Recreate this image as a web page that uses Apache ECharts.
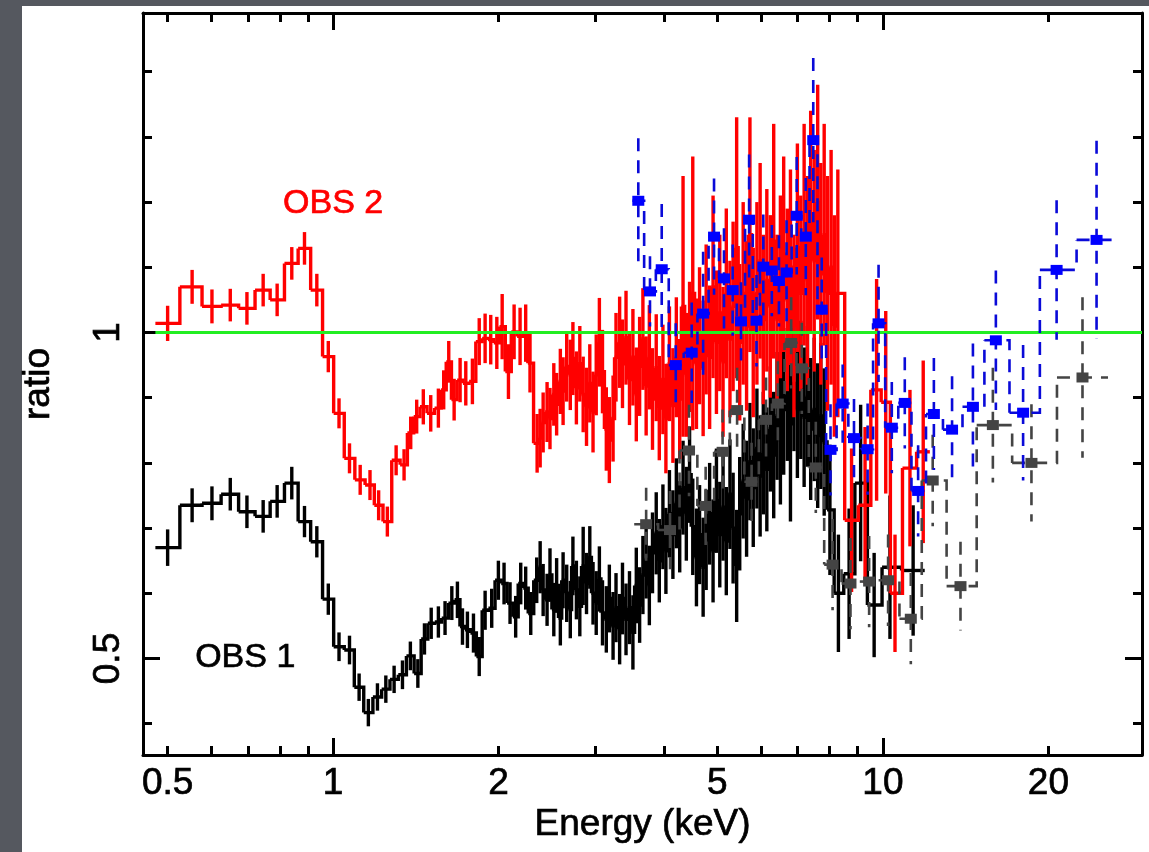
<!DOCTYPE html>
<html><head><meta charset="utf-8">
<script src="https://cdn.jsdelivr.net/npm/echarts@6/dist/echarts.min.js"></script>
<style>
html,body{margin:0;padding:0;width:1149px;height:852px;overflow:hidden;background:#55585f;}
#panel{position:absolute;left:22px;top:6px;width:1127px;height:846px;background:#fff;}
#chart{position:absolute;left:0;top:0;width:1149px;height:852px;}
</style></head><body>
<div id="panel"></div><div id="chart"></div>
<script>
// ---- axis ranges and ticks ----
const xLabelValues = [0.5, 1, 2, 5, 10, 20];
const xMajorTicks = [1, 10];
const xMinorTicks = [0.5, 0.6, 0.7, 0.8, 0.9, 2, 3, 4, 5, 6, 7, 8, 9, 20];
const yLabelValues = [0.5, 1];
const yMajorTicks = [0.5, 1];
const yMinorTicks = [0.4, 0.6, 0.7, 0.8, 0.9, 1.1, 1.2, 1.3, 1.4];
const X_MIN = 0.451, X_MAX = 29.6, Y_MIN = 0.352, Y_MAX = 1.49;
const modelRatio = 1;

// ---- OBS 2 (red) ----
const redEnergy = [0.50,0.554,0.602,0.650,0.697,0.746,0.791,0.841,0.887,0.934,
0.980,1.025,1.071,1.12,1.167,1.21,1.255,1.302,1.346,1.384,
1.419,1.459,1.505,1.554,1.589,1.623,1.66,1.702,1.743,1.792,
1.844,1.89,1.935,1.985,2.03,2.084,2.134,2.188,2.24,2.281,
2.35,2.38,2.41,2.45,2.48,2.52,2.55,2.59,2.62,2.66,
2.70,2.73,2.77,2.81,2.85,2.89,2.93,2.97,3.01,3.05,
3.09,3.14,3.18,3.23,3.27,3.32,3.36,3.41,3.46,3.51,
3.56,3.61,3.66,3.71,3.76,3.81,3.87,3.92,3.98,4.03,
4.09,4.15,4.21,4.27,4.33,4.39,4.45,4.51,4.58,4.64,
4.71,4.77,4.84,4.91,4.98,5.05,5.12,5.19,5.27,5.34,
5.42,5.49,5.57,5.65,5.73,5.81,5.90,5.98,6.06,6.15,
6.24,6.33,6.42,6.51,6.60,6.70,6.79,6.89,6.99,7.09,
7.19,7.29,7.39,7.50,7.61,7.71,7.82,7.93,8.05,8.16,
8.28,8.77,9.28,9.74,10.12,10.52,11.2,11.84];
const redRatio = [1.014,1.070,1.040,1.042,1.037,1.065,1.050,1.106,1.129,1.065,
0.963,0.876,0.807,0.774,0.766,0.735,0.710,0.804,0.797,0.846,
0.871,0.886,0.876,0.884,0.912,0.955,0.897,0.927,0.922,0.925,
0.986,0.991,0.989,0.984,1.009,0.940,1.001,0.994,0.999,0.953,
0.830,0.838,0.862,0.878,0.868,0.905,0.890,0.925,0.910,0.948,
0.935,0.960,0.915,0.952,0.905,0.886,0.922,0.878,0.935,0.985,
0.940,0.852,0.835,0.868,0.962,0.985,0.952,0.992,0.928,0.962,
0.905,0.948,0.990,0.918,0.962,0.898,0.946,0.884,0.928,0.868,
0.952,0.888,0.962,0.898,1.040,0.935,0.978,1.060,0.952,0.995,
0.945,1.020,0.962,1.070,0.985,1.030,0.955,1.060,0.990,1.040,
1.130,0.985,1.060,1.010,1.150,1.000,1.060,1.110,1.020,1.080,
1.040,1.140,1.020,1.070,1.120,1.050,1.100,1.010,1.130,1.060,
1.150,1.080,1.170,1.110,1.200,1.090,1.150,1.060,1.100,1.010,
1.060,0.712,0.735,0.912,0.893,0.600,0.792,0.817];
const redError = [0.027,0.026,0.026,0.025,0.025,0.025,0.025,0.025,0.025,0.025,
0.024,0.023,0.023,0.023,0.023,0.023,0.023,0.023,0.024,0.025,
0.026,0.027,0.028,0.030,0.030,0.032,0.032,0.034,0.034,0.035,
0.036,0.038,0.038,0.040,0.050,0.042,0.042,0.044,0.044,0.045,
0.045,0.045,0.046,0.046,0.047,0.048,0.048,0.050,0.052,0.054,
0.054,0.056,0.056,0.058,0.058,0.060,0.060,0.062,0.062,0.068,
0.064,0.064,0.066,0.066,0.068,0.070,0.068,0.072,0.070,0.074,
0.072,0.076,0.078,0.076,0.080,0.078,0.082,0.080,0.084,0.084,
0.088,0.088,0.092,0.092,0.200,0.095,0.100,0.210,0.100,0.105,
0.104,0.115,0.110,0.140,0.110,0.120,0.115,0.130,0.120,0.130,
0.200,0.120,0.140,0.130,0.180,0.130,0.140,0.150,0.130,0.140,
0.140,0.180,0.130,0.140,0.150,0.140,0.150,0.140,0.160,0.150,
0.170,0.160,0.170,0.170,0.180,0.170,0.170,0.180,0.180,0.170,
0.190,0.110,0.120,0.170,0.140,0.090,0.120,0.140];

// ---- OBS 1 (black) ----
const blackEnergy = [0.50,0.554,0.602,0.650,0.697,0.746,0.791,0.841,0.887,0.934,
0.98,1.025,1.071,1.115,1.159,1.204,1.247,1.291,1.337,1.382,
1.426,1.466,1.508,1.554,1.598,1.644,1.683,1.719,1.755,1.80,
1.844,1.89,1.943,1.998,2.046,2.098,2.148,2.194,2.24,2.288,
2.346,2.38,2.41,2.45,2.48,2.52,2.55,2.59,2.62,2.66,
2.70,2.73,2.77,2.81,2.85,2.89,2.93,2.97,3.01,3.05,
3.09,3.14,3.18,3.23,3.27,3.32,3.36,3.41,3.46,3.51,
3.56,3.61,3.66,3.71,3.76,3.81,3.87,3.92,3.98,4.03,
4.09,4.15,4.21,4.27,4.33,4.39,4.45,4.51,4.58,4.64,
4.71,4.77,4.84,4.91,4.98,5.05,5.12,5.19,5.27,5.34,
5.42,5.49,5.57,5.65,5.73,5.81,5.90,5.98,6.06,6.15,
6.24,6.33,6.42,6.51,6.60,6.70,6.79,6.89,6.99,7.09,
7.19,7.29,7.39,7.50,7.61,7.71,7.82,8.01,8.30,8.68,
9.11,9.64,10.3,11.35];
const blackRatio = [0.670,0.735,0.738,0.752,0.725,0.718,0.741,0.769,0.710,0.679,
0.591,0.518,0.513,0.456,0.417,0.441,0.453,0.468,0.475,0.504,
0.477,0.530,0.554,0.556,0.562,0.585,0.590,0.549,0.544,0.539,
0.503,0.574,0.577,0.620,0.615,0.585,0.564,0.615,0.608,0.569,
0.620,0.640,0.605,0.590,0.628,0.575,0.612,0.562,0.620,0.600,
0.575,0.642,0.605,0.580,0.642,0.615,0.655,0.600,0.585,0.622,
0.570,0.560,0.592,0.550,0.578,0.545,0.592,0.560,0.578,0.540,
0.612,0.582,0.628,0.652,0.612,0.662,0.692,0.650,0.702,0.665,
0.722,0.690,0.738,0.702,0.762,0.722,0.782,0.702,0.655,0.690,
0.640,0.682,0.722,0.665,0.742,0.690,0.732,0.680,0.752,0.700,
0.642,0.722,0.772,0.745,0.802,0.762,0.822,0.780,0.815,0.790,
0.852,0.812,0.872,0.835,0.882,0.905,0.860,0.922,0.882,0.912,
0.870,0.902,0.852,0.882,0.842,0.872,0.832,0.728,0.600,0.630,
0.769,0.582,0.640,0.635];
const blackError = [0.028,0.026,0.026,0.025,0.025,0.025,0.025,0.025,0.024,0.024,
0.024,0.022,0.022,0.021,0.021,0.021,0.021,0.021,0.022,0.022,
0.022,0.024,0.024,0.024,0.026,0.026,0.028,0.028,0.028,0.030,
0.030,0.030,0.030,0.030,0.032,0.032,0.032,0.032,0.033,0.033,
0.035,0.040,0.040,0.040,0.041,0.041,0.042,0.042,0.043,0.044,
0.044,0.045,0.045,0.046,0.060,0.047,0.048,0.048,0.049,0.050,
0.050,0.051,0.052,0.052,0.053,0.054,0.055,0.055,0.056,0.057,
0.058,0.058,0.060,0.060,0.061,0.062,0.063,0.064,0.065,0.066,
0.067,0.068,0.069,0.070,0.072,0.072,0.074,0.074,0.075,0.076,
0.076,0.077,0.078,0.079,0.080,0.081,0.082,0.083,0.084,0.085,
0.086,0.087,0.088,0.089,0.090,0.091,0.092,0.093,0.094,0.095,
0.096,0.097,0.098,0.099,0.100,0.102,0.150,0.104,0.105,0.106,
0.107,0.108,0.109,0.110,0.111,0.112,0.113,0.100,0.090,0.100,
0.120,0.080,0.110,0.100];

// ---- OBS 2 hard band (blue squares) ----
const blueEnergy = [3.59,3.77,3.96,4.20,4.49,4.71,4.93,5.14,5.33,5.52,
5.71,5.89,6.06,6.28,6.47,6.68,6.97,7.24,7.47,7.74,
8.03,8.45,8.86,9.38,9.82,10.38,10.96,11.59,12.38,13.36,
14.58,16.05,17.99,20.70,24.47];
const blueRatio = [1.202,1.063,1.097,0.950,0.969,1.029,1.147,1.083,1.065,1.017,
1.173,1.018,1.101,1.095,1.079,1.092,1.179,1.147,1.295,1.035,
0.820,0.891,0.838,0.821,1.014,0.854,0.892,0.757,0.875,0.851,
0.886,0.988,0.877,1.096,1.142];
const blueError = [0.096,0.054,0.100,0.064,0.077,0.095,0.089,0.077,0.070,0.060,
0.100,0.070,0.080,0.070,0.070,0.080,0.090,0.090,0.126,0.080,
0.070,0.060,0.060,0.070,0.090,0.070,0.070,0.070,0.086,0.082,
0.097,0.107,0.104,0.107,0.152];

// ---- OBS 1 hard band (grey squares) ----
const grayEnergy = [3.71,4.10,4.44,4.76,5.11,5.43,5.77,6.13,6.44,6.81,
7.12,7.55,8.10,8.73,9.44,10.22,11.24,12.32,13.84,15.85,
18.63,23.07];
const grayRatio = [0.706,0.697,0.819,0.734,0.817,0.881,0.771,0.866,0.891,0.984,
0.945,0.793,0.644,0.615,0.618,0.620,0.561,0.773,0.611,0.858,
0.800,0.931];
const grayError = [0.056,0.060,0.070,0.060,0.065,0.065,0.060,0.065,0.065,0.070,
0.070,0.070,0.070,0.070,0.070,0.070,0.070,0.070,0.068,0.088,
0.090,0.123];

// ---- annotations ----
const labelNames = ['OBS 2', 'OBS 1'];
const labelEnergy = [1.0, 0.692];
const labelRatio = [1.198, 0.502];
const labelColors = ['#ff0000', '#000000'];

const FONT = '"Liberation Sans", Arial, Helvetica, sans-serif';

function stepData(E, R, Er) {
  const n = E.length, out = [];
  for (let i = 0; i < n; i++) {
    const lo = i > 0 ? Math.sqrt(E[i-1]*E[i]) : E[0]/Math.sqrt(E[1]/E[0]);
    const hi = i < n-1 ? Math.sqrt(E[i]*E[i+1]) : E[n-1]*Math.sqrt(E[n-1]/E[n-2]);
    const nx = i < n-1 ? R[i+1] : R[i];
    out.push([E[i], R[i], Er[i], lo, hi, nx]);
  }
  return out;
}
function stepRenderer(color, width, dash, marker) {
  return function (params, api) {
    const e = api.value(0), r = api.value(1), er = api.value(2);
    const lo = api.value(3), hi = api.value(4), nx = api.value(5);
    const pL = api.coord([lo, r]), pR = api.coord([hi, r]), pN = api.coord([hi, nx]);
    const pT = api.coord([e, r + er]), pB = api.coord([e, r - er]), pC = api.coord([e, r]);
    const st = {stroke: color, lineWidth: width, fill: null, lineDash: dash};
    const ch = [
      {type: 'polyline', shape: {points: [pL, pR, pN]}, style: st},
      {type: 'line', shape: {x1: pT[0], y1: pT[1], x2: pB[0], y2: pB[1]}, style: st}
    ];
    if (marker) ch.push({type: 'rect', shape: {x: pC[0]-6, y: pC[1]-5, width: 12, height: 10}, style: {fill: marker}});
    return {type: 'group', children: ch};
  };
}
function stepSeries(name, E, R, Er, color, width, dash, marker, z) {
  return {name, type: 'custom', xAxisIndex: 0, yAxisIndex: 0, clip: true, z,
    renderItem: stepRenderer(color, width, dash, marker),
    encode: {x: 0, y: 1}, data: stepData(E, R, Er)};
}

const tickStyle = {color: '#000', width: 3};
const textCommon = {color: '#000', fontSize: 37, fontFamily: FONT, textBorderColor: '#000', textBorderWidth: 0.7};
function xAx(pos, ticks, len, main, labels) {
  return {type: 'log', logBase: 10, min: X_MIN, max: X_MAX, position: pos,
    axisLine: {show: main, lineStyle: tickStyle},
    axisTick: {show: true, inside: true, length: len, customValues: ticks, lineStyle: tickStyle},
    axisLabel: Object.assign({show: labels, customValues: xLabelValues, margin: 10,
      formatter: v => String(Math.round(v*100)/100)}, textCommon),
    splitLine: {show: false}, minorTick: {show: false},
    name: labels ? 'Energy (keV)' : '', nameLocation: 'middle', nameGap: 51, nameMoveOverlap: false,
    nameTextStyle: textCommon};
}
function yAx(pos, ticks, len, main, labels) {
  return {type: 'value', min: Y_MIN, max: Y_MAX, position: pos,
    axisLine: {show: main, lineStyle: tickStyle},
    axisTick: {show: true, inside: true, length: len, customValues: ticks, lineStyle: tickStyle},
    axisLabel: Object.assign({show: labels, customValues: yLabelValues, rotate: 90, margin: 16,
      formatter: v => String(Math.round(v*100)/100)}, textCommon),
    splitLine: {show: false}, minorTick: {show: false},
    name: labels ? 'ratio' : '', nameLocation: 'middle', nameGap: 86, nameRotate: 90, nameMoveOverlap: false,
    nameTextStyle: textCommon};
}

const chart = echarts.init(document.getElementById('chart'), null, {renderer: 'canvas'});
const firstEdge = redEnergy[0]/Math.sqrt(redEnergy[1]/redEnergy[0]);
chart.setOption({
  animation: false,
  backgroundColor: 'transparent',
  grid: {left: 143, right: 7, top: 13, bottom: 97, containLabel: false, outerBoundsMode: 'none'},
  xAxis: [
    xAx('bottom', xMajorTicks, 17, true, true),
    xAx('bottom', xMinorTicks, 9, false, false),
    xAx('top', xMajorTicks, 17, true, false),
    xAx('top', xMinorTicks, 9, false, false)
  ],
  yAxis: [
    yAx('left', yMajorTicks, 17, true, true),
    yAx('left', yMinorTicks, 9, false, false),
    yAx('right', yMajorTicks, 17, true, false),
    yAx('right', yMinorTicks, 9, false, false)
  ],
  series: [
    stepSeries('OBS 1', blackEnergy, blackRatio, blackError, '#000000', 3.4, null, null, 2),
    stepSeries('OBS 2', redEnergy, redRatio, redError, '#ff0000', 3.4, null, null, 3),
    stepSeries('OBS 1 hard', grayEnergy, grayRatio, grayError, '#444444', 2.6, [13, 9], '#444444', 4),
    {type: 'line', xAxisIndex: 0, yAxisIndex: 0, z: 5, symbol: 'none', silent: true,
      data: [[firstEdge, modelRatio], [X_MAX, modelRatio]],
      lineStyle: {color: '#22ee22', width: 3.2}},
    stepSeries('OBS 2 hard', blueEnergy, blueRatio, blueError, '#0a0ad8', 2.6, [13, 9], '#0000ff', 6),
    {type: 'custom', xAxisIndex: 0, yAxisIndex: 0, z: 7, silent: true, clip: false,
      data: labelNames.map((n, i) => [labelEnergy[i], labelRatio[i], i]),
      encode: {x: 0, y: 1},
      renderItem: function (params, api) {
        const i = api.value(2);
        const p = api.coord([api.value(0), api.value(1)]);
        return {type: 'text', x: p[0], y: p[1], style: {text: labelNames[i], fill: labelColors[i],
          stroke: labelColors[i], lineWidth: 0.7,
          font: '34px ' + FONT, align: 'center', verticalAlign: 'middle'}};
      }}
  ]
});
</script></body></html>
